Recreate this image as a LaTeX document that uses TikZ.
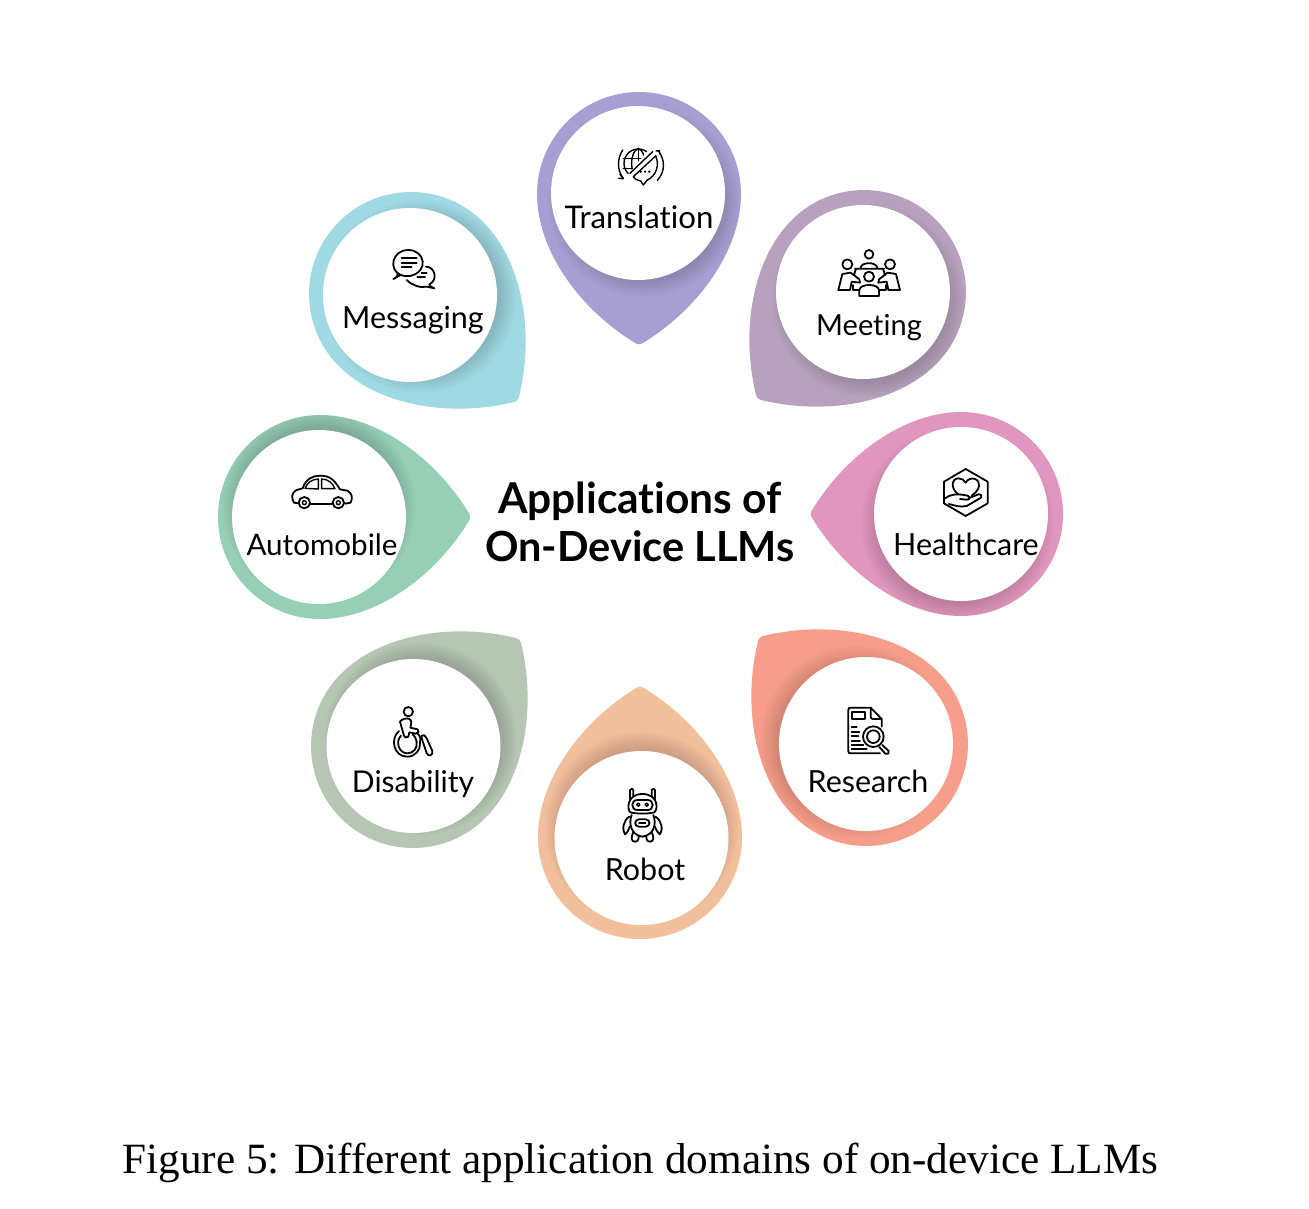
\documentclass[tikz,border=0pt]{standalone}
\usepackage{fontspec}
\setmainfont[Ligatures=NoCommon]{Lato}
\newfontfamily\capfont{Liberation Serif}
\definecolor{cTrans}{HTML}{A79FD3}
\definecolor{cMsg}{HTML}{9FD9E3}
\definecolor{cMeet}{HTML}{B8A1BE}
\definecolor{cHealth}{HTML}{E096BE}
\definecolor{cAuto}{HTML}{95CFB6}
\definecolor{cDis}{HTML}{B5C7B2}
\definecolor{cRobot}{HTML}{F1BF9B}
\definecolor{cRes}{HTML}{F79E8A}
\tikzset{
  every node/.style={inner sep=0pt,outer sep=0pt},
  hole/.style={circle,fill=white,minimum size=174pt},
  lbl/.style={anchor=base,font=\fontsize{30.5}{30.5}\selectfont,text=black},
  icon/.style={draw=black,line width=1.8pt,line join=round,line cap=round},
  iconthin/.style={draw=black,line width=1.4pt,line join=round,line cap=round},
}
% drop outline: circle of radius 102 with the tip pointing to local +y
\newcommand{\dropoutline}{(102,0) .. controls (102,-56.3) and (56.3,-102) .. (0,-102) .. controls (-56.3,-102) and (-102,-56.3) .. (-102,0) .. controls (-102,56) and (-60,115) .. (-3,149.5) .. controls (-1.5,150.5) and (1.5,150.5) .. (3,149.5) .. controls (60,115) and (102,56) .. (102,0) -- cycle}
% #1 colour, #2 outer x, #3 outer y, #4 rotation, #5 hole x, #6 hole y, #7 shadow direction, #8 hole name
\newcommand{\petal}[8]{%
  \begin{scope}[shift={(#2,#3)},rotate=#4]
    \fill[#1] \dropoutline;
    \clip \dropoutline;
    \begin{scope}[rotate=-#4,shift={(-#2,-#3)}]
      \foreach \rr in {80,81.5,...,97}{
        \fill[black,opacity=.010] ({#5+10*cos(#7)},{#6+10*sin(#7)}) circle[radius=\rr];
      }
    \end{scope}
  \end{scope}
  \node[hole] (#8) at (#5,#6) {};
}
\begin{document}
\begin{tikzpicture}[x=1pt,y=-1pt]
\useasboundingbox (0,0) rectangle (1309,1208);
\fill[white] (0,0) rectangle (1309,1208);

\petal{cTrans}{639}{194}{0}{638}{193}{55}{hTrans}
\petal{cMsg}{411}{294}{45}{410}{295}{10}{hMsg}
\petal{cMeet}{864}{292}{315}{863}{292}{60}{hMeet}
\petal{cAuto}{320}{517}{90}{319}{517}{270}{hAuto}
\petal{cHealth}{961}{514}{270}{961}{514}{110}{hHealth}
\petal{cDis}{413}{746}{135}{413.5}{746}{-45}{hDis}
\petal{cRobot}{640}{837}{180}{641.5}{838}{270}{hRobot}
\petal{cRes}{866}{744}{225}{866}{744}{190}{hRes}

\node[lbl,font=\fontsize{31.2}{31.2}\selectfont] (tTrans) at (639,228) {Translation};
\node[lbl] (tMsg) at (413,328) {Messaging};
\node[lbl,font=\fontsize{29}{29}\selectfont] (tMeet) at (869,335) {Meeting};
\node[lbl,font=\fontsize{29.6}{29.6}\selectfont] (tAuto) at (322,555) {Automobile};
\node[lbl] (tHealth) at (966,555) {Healthcare};
\node[lbl,font=\fontsize{30}{30}\selectfont] (tDis) at (413,792) {Disability};
\node[lbl] (tRobot) at (645,880) {Robot};
\node[lbl] (tRes) at (868,792) {Research};

\node[align=center,font=\fontsize{41.5}{48}\selectfont\bfseries] (title) at (640,522) {\fontsize{42.5}{48}\selectfont Applications of\\On-Device LLMs};
\node[anchor=base,font=\capfont\fontsize{43.2}{43.2}\selectfont] (caption) at (640.5,1173) {Figure 5: Different application domains of on-device LLMs};

% Translation icon
\begin{scope}[shift={(530,85)},x=.3333pt,y=-.3333pt]
  \begin{scope}
    \clip (240,170) -- (375,170) -- (288,275) -- (240,285) -- cycle;
    \draw[iconthin] (325,235) circle[radius=43];
    \draw[iconthin] (325,235) ellipse[x radius=20,y radius=43];
    \draw[iconthin] (280,220) -- (370,220) (280,250) -- (370,250) (325,190) -- (325,280);
  \end{scope}
  \draw[iconthin] (300,265) -- (368,200) (310,275) -- (378,212);
  \draw[iconthin] (378,215) .. controls (388,240) and (380,272) .. (352,285) -- (340,300) -- (332,288) .. controls (322,287) and (314,282) .. (310,275);
  \fill (332,260) circle[radius=4] (345,260) circle[radius=4] (358,260) circle[radius=4];
  \draw[iconthin] (278,195) .. controls (262,220) and (260,255) .. (280,280) (270,268) -- (280,281) -- (266,280);
  \draw[iconthin] (385,197) .. controls (406,225) and (406,260) .. (382,286) (378,198) -- (388,197) -- (390,208);
\end{scope}

% Meeting icon
\begin{scope}[shift={(810,230)},x=.3333pt,y=-.3333pt]
  \draw[icon] (177,73) circle[radius=13] (112,103) circle[radius=15] (240,103) circle[radius=15] (177,140) circle[radius=15];
  \draw[icon] (152,113) .. controls (155,95) and (198,95) .. (202,113);
  \draw[icon] (135,116) -- (222,116) (138,116) -- (132,135) (219,116) -- (225,135);
  \draw[icon] (148,198) -- (148,180) .. controls (150,160) and (205,160) .. (207,180) -- (207,198) -- cycle;
  \draw[icon] (85,180) -- (97,132) -- (122,128) -- (148,148) -- (150,158) -- (125,155) -- (120,180) -- cycle;
  \draw[icon] (270,180) -- (258,132) -- (233,128) -- (207,148) -- (205,158) -- (230,155) -- (235,180) -- cycle;
  \draw[icon] (128,165) -- (128,180) -- (148,180) (207,180) -- (227,180) -- (227,165);
\end{scope}

% Messaging icon
\begin{scope}[shift={(370,235)},x=.3333pt,y=-.3333pt]
  \draw[icon] (92,120) .. controls (55,105) and (65,45) .. (115,45) .. controls (165,45) and (178,110) .. (120,123) .. controls (110,125) and (100,123) .. (92,120) -- (70,132) .. controls (80,128) and (85,122) .. (82,112);
  \draw[icon] (95,70) -- (140,70) (95,83) -- (140,83) (95,97) -- (125,97);
  \draw[icon] (168,95) .. controls (195,95) and (205,135) .. (178,148) .. controls (178,152) and (185,158) .. (193,160) -- (170,155) .. controls (150,160) and (125,150) .. (110,135);
  \draw[icon] (155,115) -- (170,115) (142,127) -- (165,127);
\end{scope}

% Automobile icon
\begin{scope}[shift={(270,460)},x=.3333pt,y=-.3333pt]
  \draw[icon] (85,130) -- (72,128) .. controls (65,115) and (62,100) .. (80,90) -- (98,85) .. controls (108,55) and (130,47) .. (150,47) .. controls (185,47) and (195,65) .. (210,88) -- (232,92) .. controls (248,100) and (248,115) .. (242,128) -- (225,131);
  \draw[icon] (122,133) -- (186,133);
  \draw[icon] (103,128) circle[radius=17] (205,128) circle[radius=17];
  \draw[iconthin] (103,128) circle[radius=6] (205,128) circle[radius=6];
  \draw[iconthin] (105,85) .. controls (112,68) and (125,58) .. (145,57) -- (145,87) -- cycle;
  \draw[iconthin] (155,57) .. controls (175,57) and (188,70) .. (195,86) -- (155,86) -- cycle;
\end{scope}

% Healthcare icon
\begin{scope}[shift={(925,455)},x=.3333pt,y=-.3333pt]
  \draw[icon] (122,42) -- (188,80) -- (188,145) -- (122,183) -- (57,145) -- (57,80) -- cycle;
  \draw[icon] (100,118) .. controls (75,100) and (80,70) .. (100,70) .. controls (110,70) and (118,75) .. (122,83) .. controls (128,72) and (140,68) .. (150,72) .. controls (170,80) and (165,105) .. (140,122);
  \draw[icon] (60,130) .. controls (75,118) and (95,115) .. (128,122) .. controls (136,125) and (135,135) .. (125,134) -- (105,132);
  \draw[icon] (130,130) -- (160,118) .. controls (170,116) and (172,126) .. (165,130) -- (125,153) .. controls (105,158) and (85,150) .. (72,147);
\end{scope}

% Disability icon
\begin{scope}[shift={(375,695)},x=.3333pt,y=-.3333pt]
  \draw[icon] (100,50) circle[radius=14];
  \draw[icon] (75,80) .. controls (80,72) and (95,68) .. (103,72) .. controls (110,75) and (110,85) .. (106,98) -- (128,103) .. controls (135,107) and (130,116) .. (122,116) -- (103,112) -- (100,125) .. controls (95,130) and (88,128) .. (87,122) -- cycle;
  \draw[icon] (72,108) .. controls (45,130) and (55,185) .. (97,185) .. controls (120,185) and (137,165) .. (135,145) (128,116) .. controls (138,125) and (137,135) .. (135,145);
  \draw[icon] (78,122) .. controls (60,140) and (72,175) .. (97,175) .. controls (115,175) and (128,160) .. (125,140) .. controls (124,130) and (118,122) .. (113,118);
  \draw[icon] (140,122) .. controls (145,116) and (152,122) .. (155,130) -- (172,168) .. controls (175,182) and (160,186) .. (155,175) -- (140,130) -- cycle;
\end{scope}

% Robot icon
\begin{scope}[shift={(605,780)},x=.3333pt,y=-.3333pt]
  \draw[icon] (75,58) -- (75,30) .. controls (78,25) and (85,25) .. (85,30) -- (85,48);
  \draw[icon] (140,48) -- (140,30) .. controls (142,25) and (150,25) .. (150,30) -- (150,58);
  \draw[icon] (76,97) .. controls (65,88) and (66,42) .. (112,42) .. controls (160,42) and (160,88) .. (148,97) .. controls (130,102) and (95,102) .. (76,97) -- cycle;
  \draw[icon] (97,60) -- (128,60) .. controls (148,60) and (148,90) .. (128,90) -- (97,90) .. controls (77,90) and (77,60) .. (97,60) -- cycle;
  \draw[iconthin] (100,74) circle[radius=5] (125,74) circle[radius=5];
  \draw[icon] (80,105) .. controls (70,130) and (78,165) .. (112,170) .. controls (148,165) and (155,130) .. (145,105);
  \draw[icon] (102,118) -- (122,118) .. controls (137,118) and (137,140) .. (122,140) -- (102,140) .. controls (87,140) and (87,118) .. (102,118) -- cycle;
  \draw[iconthin] (102,129) -- (122,129);
  \draw[icon] (73,110) .. controls (55,120) and (50,150) .. (60,163) .. controls (65,160) and (72,150) .. (74,140);
  \draw[icon] (151,110) .. controls (170,120) and (175,150) .. (165,163) .. controls (160,160) and (153,150) .. (150,140);
  \draw[icon] (84,158) .. controls (78,172) and (78,185) .. (90,185) .. controls (100,185) and (102,175) .. (102,167);
  \draw[icon] (141,158) .. controls (147,172) and (147,185) .. (135,185) .. controls (125,185) and (123,175) .. (123,167);
\end{scope}

% Research icon
\begin{scope}[shift={(830,695)},x=.3333pt,y=-.3333pt]
  \draw[icon] (155,95) -- (155,72) -- (122,38) -- (62,38) .. controls (57,38) and (55,40) .. (55,45) -- (55,168) .. controls (55,173) and (57,175) .. (62,175) -- (150,175);
  \draw[icon] (122,40) -- (122,65) .. controls (122,70) and (125,72) .. (130,72) -- (155,72);
  \draw[icon] (67,52) rectangle (105,72);
  \draw[icon] (65,97) -- (80,97) (65,110) -- (88,110) (65,123) -- (85,123) (65,137) -- (90,137) (65,150) -- (100,150) (65,163) -- (110,163);
  \draw[icon] (130,125) circle[radius=31] (130,125) circle[radius=19];
  \draw[icon] (157,150) -- (176,168) .. controls (180,175) and (172,180) .. (166,176) -- (148,156);
\end{scope}
\end{tikzpicture}
\end{document}
